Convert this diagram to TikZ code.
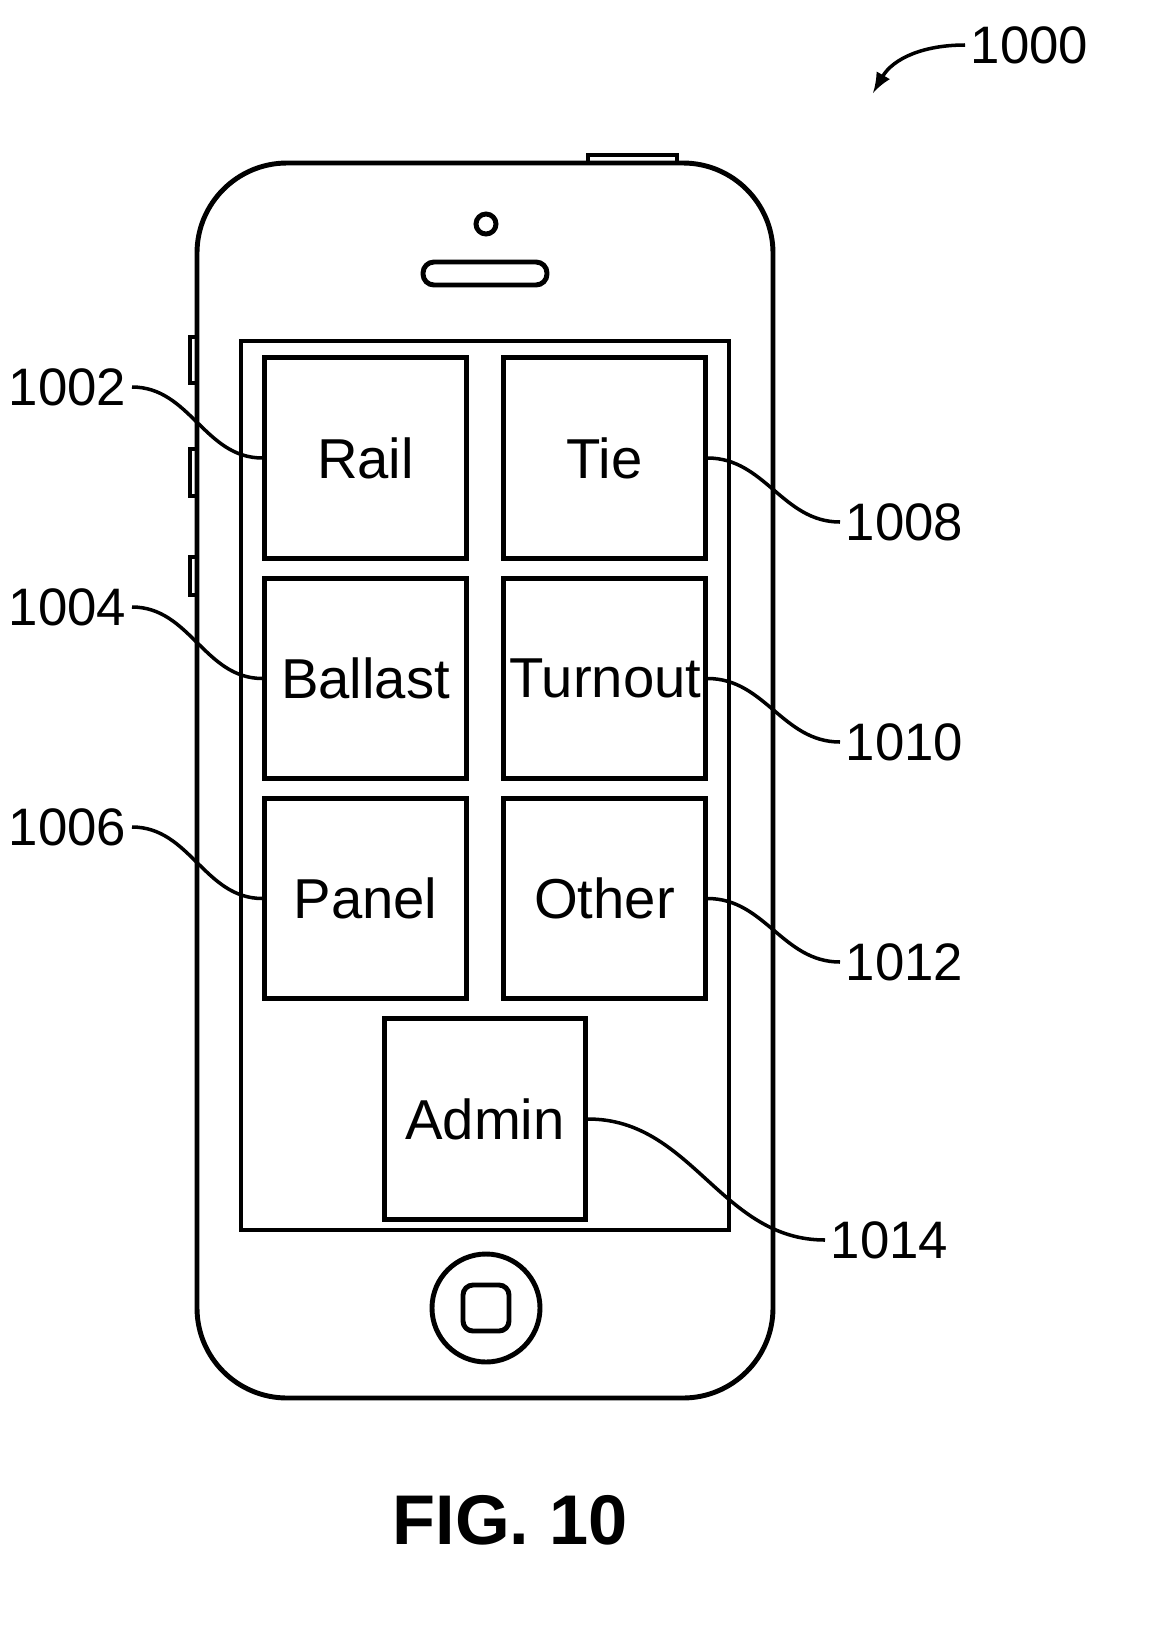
\documentclass[tikz,border=0pt]{standalone}
\usepackage{fontspec}
\setmainfont{Liberation Sans}
\begin{document}
\begin{tikzpicture}[x=0.01cm,y=-0.01cm,line width=1.4pt,
    tile/.style={draw,minimum width=2.01cm,minimum height=2.0cm,text width=1.9cm,align=center,inner sep=0pt,font=\fontsize{16}{18}\selectfont},
    num/.style={font=\fontsize{15}{17}\selectfont,inner sep=1pt},
    lead/.style={line width=1pt,out=0,in=180}]
    \useasboundingbox (0,0) rectangle (1157,1648);
    % phone body
    \draw (588,163) -- (588,155) -- (677,155) -- (677,163);
    \draw[rounded corners=0.9cm] (197,163) rectangle (773,1398);
    \draw (197,337) -- (190,337) -- (190,383) -- (197,383);
    \draw (197,449) -- (190,449) -- (190,496) -- (197,496);
    \draw (197,557) -- (190,557) -- (190,595) -- (197,595);
    \draw (486,224) circle (10);
    \draw[rounded corners=0.11cm] (423,262) rectangle (547,285);
    \draw (241,341) rectangle (729,1230);
    \draw (486,1308) circle (54);
    \draw[rounded corners=0.1cm] (463,1285) rectangle (509,1331);
    % tiles
    \node[tile] (rail) at (365.5,458) {Rail};
    \node[tile] (tie) at (604.5,458) {Tie};
    \node[tile] (ballast) at (365.5,678.5) {Ballast};
    \node[tile] (turnout) at (604.5,678.5) {Turnout};
    \node[tile] (panel) at (365.5,898.5) {Panel};
    \node[tile] (other) at (604.5,898.5) {Other};
    \node[tile] (admin) at (485,1119) {Admin};
    % reference numerals
    \node[num,anchor=east] (n1002) at (132,387) {1002};
    \node[num,anchor=east] (n1004) at (132,607) {1004};
    \node[num,anchor=east] (n1006) at (132,827) {1006};
    \node[num,anchor=west] (n1008) at (840,522) {1008};
    \node[num,anchor=west] (n1010) at (840,742) {1010};
    \node[num,anchor=west] (n1012) at (840,962) {1012};
    \node[num,anchor=west] (n1014) at (825,1240) {1014};
    \node[num,anchor=west] (n1000) at (965,45) {1000};
    \draw[lead] (n1002.east) to (rail.west);
    \draw[lead] (n1004.east) to (ballast.west);
    \draw[lead] (n1006.east) to (panel.west);
    \draw[lead] (tie.east) to (n1008.west);
    \draw[lead] (turnout.east) to (n1010.west);
    \draw[lead] (other.east) to (n1012.west);
    \draw[lead] (admin.east) to (n1014.west);
    \coordinate (arr) at (873,93);
    \draw[line width=1pt,-latex] (n1000.west) to[out=180,in=60] (arr);
    \node[font=\bfseries\fontsize{20}{22}\selectfont] (fig) at (510,1520) {FIG. 10};
\end{tikzpicture}
\end{document}
